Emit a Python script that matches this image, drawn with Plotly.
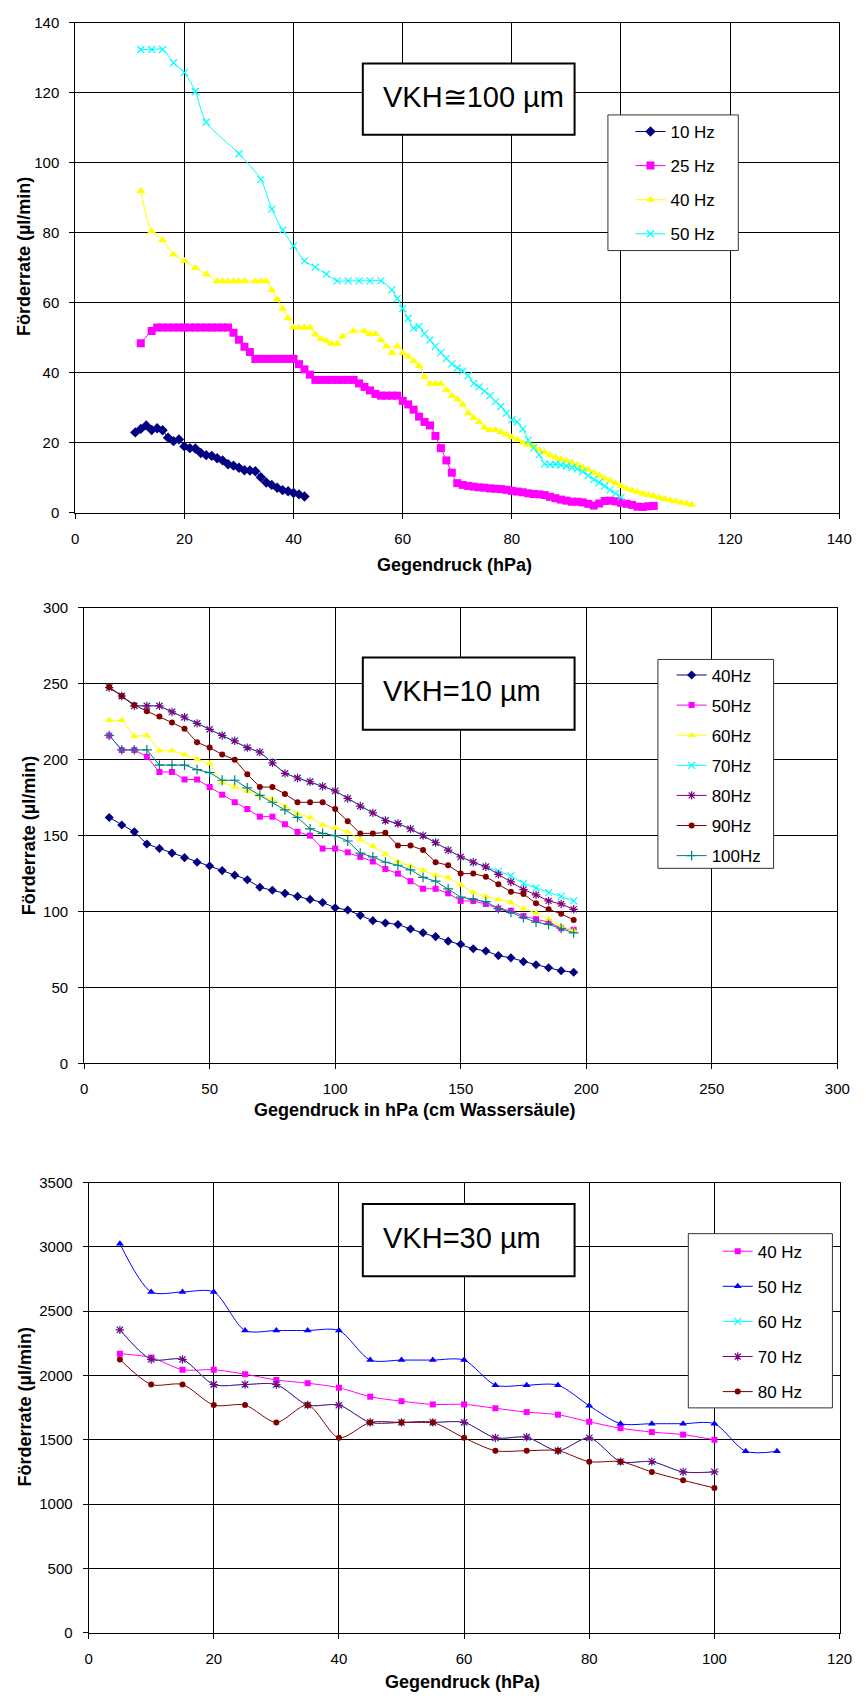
import plotly.graph_objects as go

W, H = 866, 1702
FONT = "Arial, Liberation Sans, sans-serif"


def px(x):
    return x / W


def py(y):
    return 1 - y / H


# ---------------- Panel 1: VKH ~ 100 um ----------------
p1_x_10hz = [11, 12, 13, 14, 15, 16, 17, 18, 19, 20, 21, 22, 23, 24, 25, 26,
             27, 28, 29, 30, 31, 32, 33, 34, 35, 36, 37, 38, 39, 40, 41, 42]
p1_y_10hz = [23.0, 24.0, 25.0, 23.7, 24.2, 23.6, 21.5, 20.5, 21.0, 19.0, 18.5,
             18.4, 17.1, 16.5, 16.3, 15.6, 15.0, 13.9, 13.5, 12.9, 12.2, 12.1,
             11.9, 10.2, 8.7, 8.0, 7.2, 6.5, 6.2, 5.7, 5.3, 4.7]

p1_x_25hz = [12, 14, 15, 16, 17, 18, 19, 20, 21, 22, 23, 24, 25, 26, 27, 28,
             29, 30, 31, 32, 33, 34, 35, 36, 37, 38, 39, 40, 41, 42, 43, 44,
             45, 46, 47, 48, 49, 50, 51, 52, 53, 54, 55, 56, 57, 58, 59, 60,
             61, 62, 63, 64, 65, 66, 67, 68, 69, 70, 71, 72, 73, 74, 75, 76,
             77, 78, 79, 80, 81, 82, 83, 84, 85, 86, 87, 88, 89, 90, 91, 92,
             93, 94, 95, 96, 97, 98, 99, 100, 101, 102, 103, 104, 105, 106]
p1_y_25hz = [48.5, 52.0,
             53.0, 53.0, 53.0, 53.0, 53.0, 53.0, 53.0, 53.0, 53.0, 53.0, 53.0,
             53.0, 53.0, 53.0,
             51.5, 49.5, 47.5, 46.0,
             44.0, 44.0, 44.0, 44.0, 44.0, 44.0, 44.0, 44.0,
             42.5, 41.0, 39.5, 38.0,
             38.0, 38.0, 38.0, 38.0, 38.0, 38.0, 38.0,
             37.0, 36.0, 35.0, 34.0,
             33.5, 33.5, 33.5, 33.5,
             32.0, 31.0, 29.5, 27.5, 26.0, 25.0, 22.0, 18.5, 15.0, 11.5, 8.5,
             8.0, 7.7, 7.5, 7.3, 7.2, 7.0, 6.9, 6.8, 6.6, 6.3, 6.1, 5.9, 5.6,
             5.4, 5.3, 5.1, 4.6, 4.2, 3.8, 3.5, 3.2, 3.2, 3.0, 2.6, 2.1, 2.7,
             3.4, 3.5, 3.3, 2.9, 2.6, 2.3, 1.8, 1.7, 1.9, 2.0]

p1_x_40hz = [12, 14, 16, 18, 20, 22, 24, 26, 27, 28, 29, 30, 31, 33, 34, 35,
             36, 37, 38, 39, 40, 41, 42, 43, 44, 45, 46, 47, 48, 49, 51, 53,
             54, 55, 56, 57, 58, 59, 60, 61, 62, 63, 64, 65, 66, 67, 68, 69,
             70, 71, 72, 73, 74, 75, 76, 77, 78, 79, 80, 81, 82, 83, 84, 85,
             86, 87, 88, 89, 90, 91, 92, 93, 94, 95, 96, 97, 98, 99, 100, 101,
             102, 103, 104, 105, 106, 107, 108, 109, 110, 111, 112, 113]
p1_y_40hz = [92.0, 80.5, 78.0, 73.8, 72.0, 70.0, 68.2,
             66.2, 66.2, 66.2, 66.2, 66.2, 66.2, 66.2, 66.2, 66.2,
             63.7, 61.0, 58.3, 55.6, 53.0, 53.0, 53.0, 53.0, 51.0, 49.7, 49.2,
             48.3, 48.3, 50.4, 51.9, 51.9, 51.1, 51.1, 49.4, 47.6, 45.7, 47.6,
             45.7, 44.7, 43.4, 42.0, 38.9, 36.9, 36.9, 36.9, 35.1, 33.5, 32.5,
             31.0, 28.5, 27.1, 26.0, 24.4, 23.7, 23.7, 23.1, 22.4, 21.6, 21.0,
             20.0, 19.5, 19.0, 18.0, 17.3, 16.5, 15.8, 15.3, 14.9, 14.3, 13.7,
             13.0, 12.3, 11.5, 10.7, 9.9, 9.2, 8.5, 7.7, 7.0, 6.5, 6.0, 5.5,
             5.1, 4.8, 4.4, 4.0, 3.6, 3.3, 3.0, 2.7, 2.3]

p1_x_50hz = [12, 14, 16, 18, 20, 22, 24, 30, 34, 36, 38, 40, 42, 44, 46, 48,
             50, 52, 54, 56, 58, 59, 60, 61, 62, 63, 64, 65, 66, 67, 68, 69,
             70, 71, 72, 73, 74, 75, 76, 77, 78, 79, 80, 81, 82, 83, 84, 85,
             86, 87, 88, 89, 90, 91, 92, 93, 94, 95, 96, 97, 98, 99, 100]
p1_y_50hz = [132.4, 132.4, 132.4, 128.6, 125.8, 120.4, 111.6, 102.6, 95.2,
             86.8, 80.8, 76.3, 72.0, 70.2, 68.2, 66.3, 66.3, 66.3, 66.3, 66.3,
             63.7, 61.2, 58.4, 55.6, 52.8, 53.3, 51.2, 49.4, 47.6, 45.8, 44.1,
             42.6, 41.4, 40.5, 39.2, 37.0, 36.0, 34.8, 33.5, 31.8, 30.4, 28.5,
             26.6, 26.0, 24.0, 20.8, 18.6, 16.6, 14.0, 13.8, 13.9, 13.7, 13.4,
             13.0, 12.6, 11.8, 10.7, 9.6, 8.7, 7.7, 6.6, 5.6, 4.5]

# ---------------- Panel 2: VKH = 10 um ----------------
p2_x = [10, 15, 20, 25, 30, 35, 40, 45, 50, 55, 60, 65, 70, 75, 80, 85, 90,
        95, 100, 105, 110, 115, 120, 125, 130, 135, 140, 145, 150, 155, 160,
        165, 170, 175, 180, 185, 190, 195]
p2_40hz = [162, 157, 152.5, 144.5, 141.5, 138.5, 135.5, 132.5, 130, 127, 124,
           121, 116, 114, 112, 110, 108, 106, 102.5, 101, 97.5, 94, 92.5, 91.5,
           88.5, 86, 83.5, 80.5, 78.5, 75.5, 74, 71, 69.5, 67, 65, 63, 61, 60]
p2_50hz = [216, 206.5, 206.5, 202, 192, 192, 187, 187, 182, 177, 172, 167.5,
           162.5, 162.5, 157.5, 152.5, 150, 141.5, 141.5, 139, 136, 133, 128,
           125, 120, 115, 115, 112, 107, 107, 105, 102, 100.5, 97, 95, 93, 89,
           88]
p2_60hz = [226, 226, 215.5, 216, 206, 206, 203.5, 200.5, 197.5, 185, 182,
           179.5, 176.5, 174, 169, 164.5, 162, 157, 155, 152.5, 147.5, 143,
           138, 133, 130, 127, 124, 122.5, 117.5, 112.5, 110, 108, 106, 102,
           99, 95, 90, 87.5]
p2_70hz = [247.5, 242, 235.5, 235.5, 235.5, 231.5, 228, 224, 220, 216, 212.5,
           208, 205, 198, 191, 188, 185.5, 182.5, 179.5, 174.5, 169.5, 165,
           160, 158, 154.5, 150, 145.5, 140.5, 136, 132.5, 129.5, 126.5, 123.5,
           118.5, 115.5, 112.5, 110, 107]
p2_80hz = [247.5, 242, 235.5, 235.5, 235.5, 231.5, 228, 224, 220, 216, 212.5,
           208, 205, 198, 191, 188, 185.5, 182.5, 179.5, 174.5, 169.5, 165,
           160, 158, 154.5, 150, 145.5, 140.5, 136, 132.5, 129.5, 124.5, 119.5,
           114.5, 111, 107, 105, 101.5]
p2_90hz = [248, 242, 236, 232, 228.5, 224.5, 220.5, 211.5, 208, 203.5, 200,
           190.5, 182, 182, 177.5, 172, 172, 172, 167.5, 159.5, 151.5, 151.5,
           152, 143.5, 143.5, 140.5, 132.5, 130.5, 125, 125, 123, 118, 113,
           111.5, 105.5, 101.5, 98.5, 94.5]
p2_100hz = [216, 206.5, 206.5, 206.5, 196.5, 196.5, 196.5, 193.5, 191.5,
            186.5, 186.5, 181.5, 176.5, 172, 167, 162, 154.5, 151.5, 150,
            146.5, 138.5, 136, 132.5, 130.5, 127.5, 122.5, 120, 115, 109.5,
            108, 106.5, 102, 99.5, 96, 93, 91.5, 89, 86]

# ---------------- Panel 3: VKH = 30 um ----------------
p3_x = [5, 10, 15, 20, 25, 30, 35, 40, 45, 50, 55, 60, 65, 70, 75, 80, 85,
        90, 95, 100]
p3_x_50hz = [5, 10, 15, 20, 25, 30, 35, 40, 45, 50, 55, 60, 65, 70, 75, 80,
             85, 90, 95, 100, 105, 110]
p3_40hz = [2170, 2140, 2045, 2045, 2010, 1965, 1940, 1905, 1835, 1800, 1775,
           1775, 1745, 1715, 1695, 1640, 1590, 1560, 1540, 1500]
p3_50hz = [3025, 2650, 2650, 2650, 2350, 2350, 2350, 2350, 2120, 2120, 2120,
           2120, 1925, 1925, 1925, 1765, 1625, 1625, 1625, 1625, 1410, 1410]
p3_60hz = [2355, 2125, 2125, 1930, 1930, 1930, 1770, 1770, 1635, 1635, 1635,
           1635, 1515, 1520, 1415, 1515, 1330, 1330, 1250, 1250]
p3_70hz = [2355, 2125, 2125, 1930, 1930, 1930, 1770, 1770, 1635, 1635, 1635,
           1635, 1515, 1520, 1415, 1515, 1330, 1330, 1250, 1250]
p3_80hz = [2125, 1930, 1930, 1770, 1770, 1635, 1770, 1515, 1635, 1635, 1635,
           1515, 1415, 1415, 1415, 1330, 1330, 1250, 1185, 1125]

NAVY, MAGENTA, YELLOW, CYAN = "#000080", "#FF00FF", "#FFFF00", "#00FFFF"
PURPLE, BROWN, TEAL, BLUE = "#800080", "#800000", "#008080", "#0000FF"
THIN = {"x-thin", "cross-thin", "asterisk"}

fig = go.Figure()


def add(x, y, name, color, symbol, size, axis, legend, spline):
    thin = symbol in THIN
    fig.add_trace(go.Scatter(
        x=x, y=y, name=name, mode="lines+markers",
        line=dict(color=color, width=1,
                  shape="spline" if spline else "linear",
                  smoothing=0.8 if spline else None),
        marker=dict(symbol=symbol, size=size, color=color,
                    line=dict(color=color, width=1.2 if thin else 0)),
        xaxis="x" + axis, yaxis="y" + axis, legend=legend,
        legendgroup=legend + name,
    ))


add(p1_x_10hz, p1_y_10hz, "10 Hz", NAVY, "diamond", 8, "", "legend", True)
add(p1_x_25hz, p1_y_25hz, "25 Hz", MAGENTA, "square", 8, "", "legend", True)
add(p1_x_40hz, p1_y_40hz, "40 Hz", YELLOW, "triangle-up", 8, "", "legend", True)
add(p1_x_50hz, p1_y_50hz, "50 Hz", CYAN, "x-thin", 7, "", "legend", True)

add(p2_x, p2_40hz, "40Hz", NAVY, "diamond", 7, "2", "legend2", False)
add(p2_x, p2_50hz, "50Hz", MAGENTA, "square", 6, "2", "legend2", False)
add(p2_x, p2_60hz, "60Hz", YELLOW, "triangle-up", 7, "2", "legend2", False)
add(p2_x, p2_70hz, "70Hz", CYAN, "x-thin", 7, "2", "legend2", False)
add(p2_x, p2_80hz, "80Hz", PURPLE, "asterisk", 7, "2", "legend2", False)
add(p2_x, p2_90hz, "90Hz", BROWN, "circle", 6, "2", "legend2", False)
add(p2_x, p2_100hz, "100Hz", TEAL, "cross-thin", 7, "2", "legend2", False)

add(p3_x, p3_40hz, "40 Hz", MAGENTA, "square", 6, "3", "legend3", True)
add(p3_x_50hz, p3_50hz, "50 Hz", BLUE, "triangle-up", 7, "3", "legend3", True)
add(p3_x, p3_60hz, "60 Hz", CYAN, "x-thin", 7, "3", "legend3", True)
add(p3_x, p3_70hz, "70 Hz", PURPLE, "asterisk", 7, "3", "legend3", True)
add(p3_x, p3_80hz, "80 Hz", BROWN, "circle", 6, "3", "legend3", True)


def axis(domain, rng, dtick, anchor):
    return dict(domain=domain, range=rng, dtick=dtick, tick0=0,
                showgrid=True, gridcolor="#000000", gridwidth=1,
                showline=True, linecolor="#000000", linewidth=1, mirror=True,
                ticks="outside", ticklen=5, tickcolor="#000000",
                tickfont=dict(family=FONT, size=15, color="#000000"),
                ticklabelstandoff=7, zeroline=False, anchor=anchor,
                fixedrange=True)


# plot areas in pixel coordinates (left, right, top, bottom)
P1 = (72.7, 852.0, 14.0, 509.0)
P2 = (81.7, 850.0, 605.0, 1065.0)
P3 = (86.3, 852.3, 1185.5, 1640.0)


def dom_x(p):
    return [px(p[0]), px(p[1])]


def dom_y(p):
    return [py(p[3]), py(p[2])]


def legend_box(x, y, gap):
    return dict(x=px(x), y=py(y), xanchor="left", yanchor="top",
                bgcolor="rgba(0,0,0,0)", borderwidth=0,
                font=dict(family=FONT, size=17, color="#000000"),
                tracegroupgap=gap, traceorder="grouped", itemwidth=30)


fig.update_layout(
    width=W, height=H, autosize=False,
    margin=dict(l=0, r=0, t=0, b=0),
    paper_bgcolor="white", plot_bgcolor="white",
    font=dict(family=FONT, color="#000000"),
    xaxis=axis(dom_x(P1), [0, 140], 20, "y"),
    yaxis=axis(dom_y(P1), [0, 140], 20, "x"),
    xaxis2=axis(dom_x(P2), [0, 300], 50, "y2"),
    yaxis2=axis(dom_y(P2), [0, 300], 50, "x2"),
    xaxis3=axis(dom_x(P3), [0, 120], 20, "y3"),
    yaxis3=axis(dom_y(P3), [0, 3500], 500, "x3"),
    legend=legend_box(639, 106, 9),
    legend2=legend_box(681, 655, 5),
    legend3=legend_box(728, 1237, 10),
)

shapes = []
annotations = []

# legend frames
for (x0, y0, x1, y1) in [(616, 107, 749, 244), (667, 657, 785, 868),
                         (698, 1237, 845, 1413)]:
    shapes.append(dict(type="rect", xref="paper", yref="paper", layer="above",
                       x0=px(x0), x1=px(x1), y0=py(y1), y1=py(y0),
                       fillcolor="white", line=dict(color="#333333", width=1)))

# text boxes with the VKH labels
for (y0, y1, text, ty) in [(55, 127, "VKH≅100 µm", 89),
                           (655, 728, "VKH=10 µm", 689),
                           (1207, 1280, "VKH=30 µm", 1241)]:
    shapes.append(dict(type="rect", xref="paper", yref="paper", layer="above",
                       x0=px(366), x1=px(582), y0=py(y1), y1=py(y0),
                       fillcolor="white", line=dict(color="#000000", width=2)))
    annotations.append(dict(xref="paper", yref="paper", x=px(385), y=py(ty),
                            xanchor="left", yanchor="middle", showarrow=False,
                            text=text,
                            font=dict(family=FONT, size=29, color="#000000")))

# axis titles
BOLD = dict(family=FONT, size=18, color="#000000", weight="bold")
for (x, y, text) in [(460, 562, "Gegendruck (hPa)"),
                     (419, 1112, "Gegendruck in hPa (cm Wassersäule)"),
                     (468, 1690, "Gegendruck (hPa)")]:
    annotations.append(dict(xref="paper", yref="paper", x=px(x), y=py(y),
                            xanchor="center", yanchor="middle",
                            showarrow=False, text=text, font=BOLD))
for (x, y) in [(20, 250), (25, 835), (21, 1412)]:
    annotations.append(dict(xref="paper", yref="paper", x=px(x), y=py(y),
                            xanchor="center", yanchor="middle", textangle=-90,
                            showarrow=False, text="Förderrate (µl/min)",
                            font=BOLD))

fig.update_layout(shapes=shapes, annotations=annotations)

fig.write_html("out.html")
